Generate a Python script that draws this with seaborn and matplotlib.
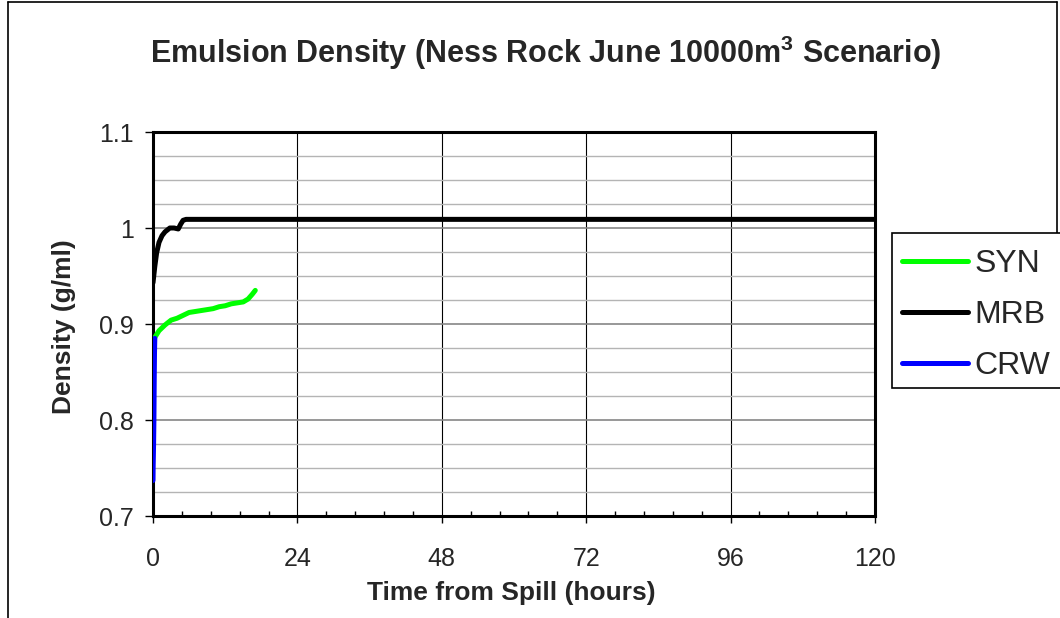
import matplotlib
matplotlib.use("Agg")
import matplotlib.pyplot as plt
import seaborn as sns
import numpy as np
import pandas as pd
from matplotlib.ticker import MultipleLocator, AutoMinorLocator
from matplotlib.patches import Rectangle
from matplotlib.lines import Line2D

# ---- data ----
syn_t = [0, 0.3, 1.0, 2.0, 3.0, 4.0, 5.0, 6.0, 7.0, 8.0, 9.0, 10.0, 11.0, 12.0, 13.0, 14.0, 15.0, 15.8, 16.5, 17.0]
syn_d = [0.876, 0.886, 0.893, 0.899, 0.904, 0.906, 0.909, 0.912, 0.913, 0.914, 0.915, 0.916, 0.918, 0.919, 0.921, 0.922, 0.923, 0.926, 0.931, 0.935]

mrb_t = [0, 0.3, 0.6, 1.0, 1.5, 2.0, 2.8, 3.5, 4.2, 4.6, 5.0, 5.5, 10, 24, 48, 72, 96, 120]
mrb_d = [0.943, 0.960, 0.974, 0.985, 0.992, 0.996, 1.000, 1.000, 0.999, 1.004, 1.008, 1.009, 1.009, 1.009, 1.009, 1.009, 1.009, 1.009]

crw_t = [0, 0.02, 0.1, 0.15, 0.2, 0.25, 0.3]
crw_d = [0.737, 0.750, 0.776, 0.800, 0.840, 0.870, 0.885]

series_names = ["SYN", "MRB", "CRW"]
series_colors = ["#00FF00", "#000000", "#0000FF"]

title = r"Emulsion Density (Ness Rock June 10000m$^{\mathbf{3}}$ Scenario)"
xlabel = "Time from Spill (hours)"
ylabel = "Density (g/ml)"
xticks = [0, 24, 48, 72, 96, 120]
yticks = [0.7, 0.8, 0.9, 1.0, 1.1]
ytick_labels = ["0.7", "0.8", "0.9", "1", "1.1"]

W, H = 1060, 618

sns.set_theme(style="white")
plt.rcParams["font.family"] = ["Liberation Sans", "DejaVu Sans"]
plt.rcParams["mathtext.fontset"] = "custom"
plt.rcParams["mathtext.rm"] = "Liberation Sans"
plt.rcParams["mathtext.bf"] = "Liberation Sans:bold"

fig = plt.figure(figsize=(W / 100, H / 100), dpi=100)
ax = fig.add_axes([153 / W, 1 - 516 / H, (875 - 153) / W, (516 - 132) / H])

data = [(syn_t, syn_d), (mrb_t, mrb_d), (crw_t, crw_d)]
for (t, d), name, col in zip(data, series_names, series_colors):
    df = pd.DataFrame({"t": t, "d": d})
    sns.lineplot(data=df, x="t", y="d", ax=ax, color=col, lw=3.6, sort=False,
                 label=name, zorder=3, estimator=None, legend=False)

ax.set_xlim(0, 120)
ax.set_ylim(0.7, 1.1)
ax.set_xticks(xticks)
ax.set_xticklabels([str(v) for v in xticks])
ax.set_yticks(yticks)
ax.set_yticklabels(ytick_labels)
ax.xaxis.set_minor_locator(AutoMinorLocator(5))
ax.yaxis.set_minor_locator(MultipleLocator(0.025))

# gridlines
ax.grid(which="minor", axis="y", color="#b4b4b4", lw=1.0, zorder=0)
ax.grid(which="major", axis="y", color="#868686", lw=1.2, zorder=0)
ax.grid(which="major", axis="x", color="#000000", lw=0.8, zorder=0)
ax.set_axisbelow(True)

for s in ax.spines.values():
    s.set_color("black")
    s.set_linewidth(2.2)

ax.tick_params(axis="y", which="major", direction="out", length=5.8, width=1,
               color="black", labelsize=18, pad=8, left=True)
ax.tick_params(axis="x", which="major", direction="out", length=5.0, width=1,
               color="black", labelsize=18, pad=17, bottom=True)
ax.tick_params(axis="x", which="minor", direction="in", length=3.5, width=1,
               color="black", bottom=True)
ax.tick_params(axis="y", which="minor", left=False)

ax.set_xlabel(xlabel, fontsize=19, fontweight="bold")
ax.xaxis.label.set_va("baseline")
ax.xaxis.set_label_coords((511 - 153) / 722, (516 - 600) / 384)
ax.set_ylabel(ylabel, fontsize=19, fontweight="bold")
ax.yaxis.label.set_va("center")
ax.yaxis.set_label_coords((64 - 153) / 722, (516 - 327) / 384)

fig.text(546 / W, 1 - 63 / H, title, fontsize=22, fontweight="bold",
         ha="center", va="baseline")

# legend box (extends past the right edge of the picture, as in the reference)
fig.patches.append(Rectangle((892 / W, 1 - 388 / H), (1075 - 892) / W, (388 - 233) / H,
                             transform=fig.transFigure, facecolor="white",
                             edgecolor="black", lw=1.2, zorder=5))
handles = [Line2D([], [], color=c, lw=3.6) for c in series_colors]
leg = fig.legend(handles, series_names, loc="upper left",
                 bbox_to_anchor=(892 / W, 1 - 239 / H),
                 frameon=False, fontsize=23, handlelength=2.05,
                 handletextpad=0.22, labelspacing=0.66, borderpad=0.32,
                 borderaxespad=0)
leg.set_zorder(6)

# figure border (left, top, right down to the legend box)
for xs, ys in [([8, 8], [2, 630]), ([8, 1057], [2, 2]), ([1057, 1057], [2, 233])]:
    fig.add_artist(Line2D([x / W for x in xs], [1 - y / H for y in ys],
                          transform=fig.transFigure, color="black", lw=1.2,
                          zorder=4))

fig.savefig("out.png", dpi=100)
